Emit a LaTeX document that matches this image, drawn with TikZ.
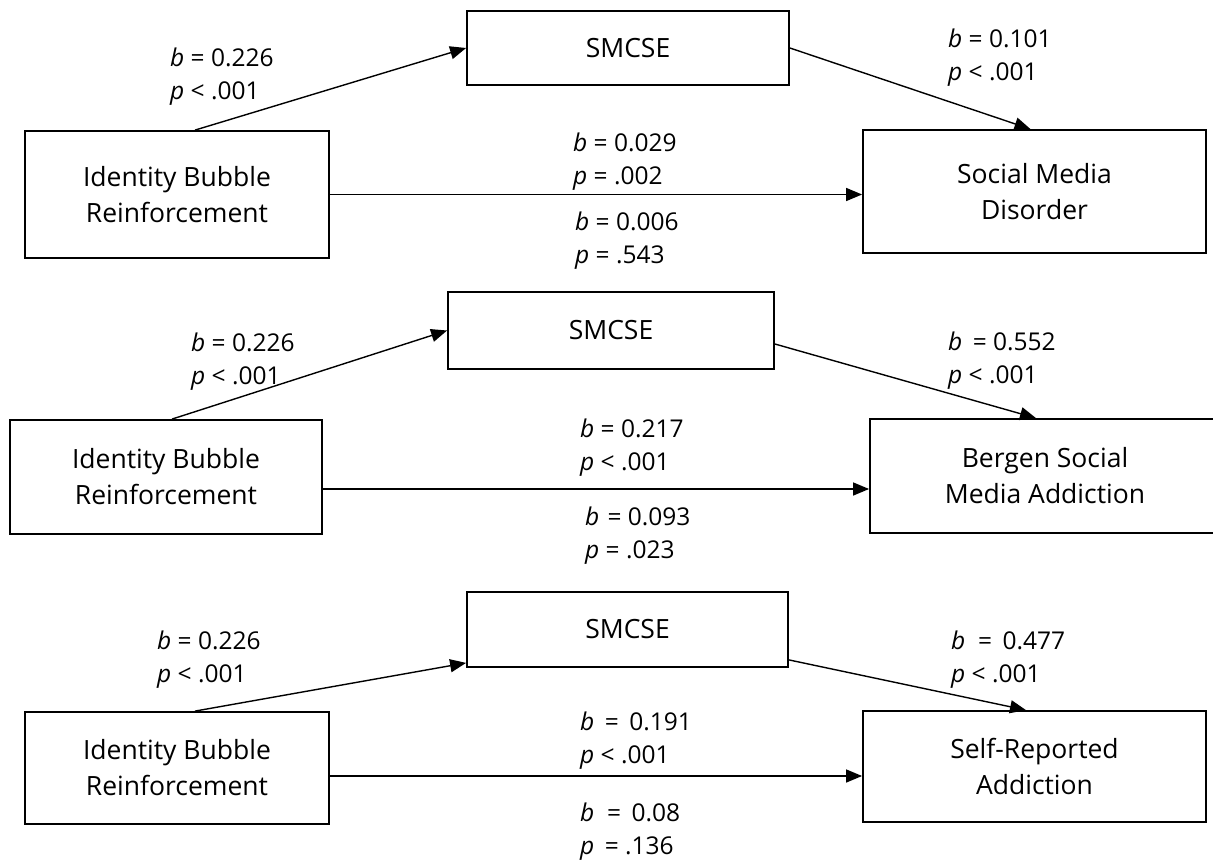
\documentclass[tikz,border=0pt]{standalone}
\usepackage{fontspec}
\setmainfont{Open Sans}
\usepackage{tikz}
\usetikzlibrary{arrows.meta,positioning,calc}

\begin{document}
\begin{tikzpicture}[x=1pt,y=-1pt,
  box/.style={rectangle,draw,line width=1.8pt,align=center,inner sep=0pt,
              font=\fontsize{26.5}{36}\selectfont},
  coef/.style={anchor=west,align=left,inner sep=0pt,font=\fontsize{24.5}{33}\selectfont},
  link/.style={-{Triangle[length=16pt,width=13pt]},line width=1.4pt}]
\useasboundingbox (0,0) rectangle (1213,861);

% Social Media Disorder
\node[box,minimum width=304pt,minimum height=127pt] (ibrA) at (177,194.5) {Identity Bubble\\Reinforcement};
\node[box,minimum width=322pt,minimum height=74pt] (smcseA) at (628,48) {SMCSE};
\node[box,minimum width=343pt,minimum height=123pt] (smdA) at (1034.5,191.5) {Social Media\\Disorder};
\draw[link] ($(ibrA.north)+(18,0)$) -- (smcseA.west);
\draw[link] (smcseA.east) -- ($(smdA.north)+(-4,0)$);
\draw[link] (ibrA.east) -- (ibrA.east -| smdA.west);
\node[coef] (cA1) at (170,77) {\textit{b} = 0.226\\\textit{p} < .001};
\node[coef] (cA2) at (948,58) {\textit{b} = 0.101\\\textit{p} < .001};
\node[coef] (cA3) at (573,161.5) {\textit{b} = 0.029\\\textit{p} = .002};
\node[coef] (cA4) at (575,241) {\textit{b} = 0.006\\\textit{p} = .543};

% Bergen Social Media Addiction
\node[box,minimum width=312pt,minimum height=114pt] (ibrB) at (166,477) {Identity Bubble\\Reinforcement};
\node[box,minimum width=326pt,minimum height=77pt] (smcseB) at (611,330.5) {SMCSE};
\node[box,minimum width=350pt,minimum height=114pt] (bsmaB) at (1045,476) {Bergen Social\\Media Addiction};
\coordinate (dirB) at ($(ibrB.east)+(0,12)$);
\draw[link] ($(ibrB.north)+(6,0)$) -- (smcseB.west);
\draw[link] ($(smcseB.east)+(0,13.5)$) -- ($(bsmaB.north)+(-9,0)$);
\draw[link] (dirB) -- (dirB -| bsmaB.west);
\node[coef] (cB1) at (191,361.5) {\textit{b} = 0.226\\\textit{p} < .001};
\node[coef] (cB2) at (948,360.5) {\textit{b}\ \,= 0.552\\\textit{p} < .001};
\node[coef] (cB3) at (580,448) {\textit{b} = 0.217\\\textit{p} < .001};
\node[coef] (cB4) at (585,535.5) {\textit{b}\,\,= 0.093\\\textit{p} = .023};

% Self-Reported Addiction
\node[box,minimum width=304pt,minimum height=112pt] (ibrC) at (177,768) {Identity Bubble\\Reinforcement};
\node[box,minimum width=321pt,minimum height=75pt] (smcseC) at (627.5,629.5) {SMCSE};
\node[box,minimum width=343pt,minimum height=111pt] (sraC) at (1034.5,766.5) {Self-Reported\\Addiction};
\coordinate (dirC) at ($(ibrC.east)+(0,8)$);
\draw[link] ($(ibrC.north)+(18,0)$) -- ($(smcseC.south west)+(0,-5)$);
\draw[link] ($(smcseC.south east)+(0,-8)$) -- ($(sraC.north)+(-8.5,0)$);
\draw[link] (dirC) -- (dirC -| sraC.west);
\node[coef] (cC1) at (157,659.5) {\textit{b} = 0.226\\\textit{p} < .001};
\node[coef] (cC2) at (951,659.5) {\textit{b}\ \ = \,0.477\\\textit{p} < .001};
\node[coef] (cC3) at (580,740.5) {\textit{b} \,= \,0.191\\\textit{p} < .001};
\node[coef] (cC4) at (580,832) {\textit{b}\ \ = \,0.08\\\textit{p} \,= .136};
\end{tikzpicture}
\end{document}
